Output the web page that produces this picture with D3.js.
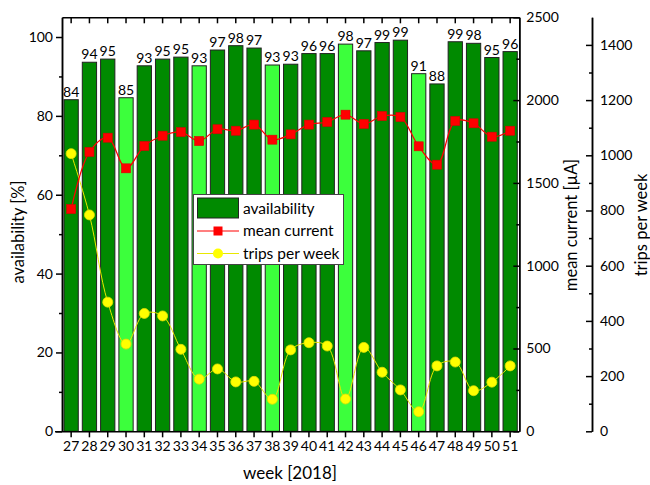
<!DOCTYPE html>
<html>
<head>
<meta charset="utf-8">
<script src="https://cdn.jsdelivr.net/npm/d3@7/dist/d3.min.js"></script>
<style>
  body { margin: 0; background: #fff; }
  svg { display: block; font-family: Lato, "Open Sans", sans-serif; }
  .tick text { font-size: 14px; fill: #000; }
</style>
</head>
<body>
<svg id="chart" width="650" height="485"></svg>
<script>
// ---- data ----
const weeks = [27,28,29,30,31,32,33,34,35,36,37,38,39,40,41,42,43,44,45,46,47,48,49,50,51];
const availability = [84.1,93.6,94.4,84.6,92.7,94.4,94.9,92.7,96.7,97.8,97.2,92.9,93.1,95.8,95.8,98.2,96.5,98.6,99.2,90.7,88.1,98.8,98.4,94.8,96.3];
const availabilityLabels = [84,94,95,85,93,95,95,93,97,98,97,93,93,96,96,98,97,99,99,91,88,99,98,95,96];
const highlightWeeks = [30,34,38,42,46];
const meanCurrent = [1342,1687,1773,1588,1723,1785,1807,1753,1824,1815,1852,1761,1793,1852,1868,1912,1856,1904,1898,1721,1610,1874,1860,1779,1815];
const tripsPerWeek = [1006,784,468,316,427,418,297,189,226,179,181,116,295,321,309,117,304,214,150,71,237,251,147,178,237];
const availTicks = [0,20,40,60,80,100];
const availMinor = [10,30,50,70,90];
const currentTicks = [0,500,1000,1500,2000,2500];
const currentMinor = [250,750,1250,1750,2250];
const tripsTicks = [0,200,400,600,800,1000,1200,1400];
const tripsMinor = [100,300,500,700,900,1100,1300];
const legendItems = ["availability","mean current","trips per week"];

// ---- layout ----
const L = 62, R = 519.3, T = 17.3, B = 431.3, tripsX = 592;
const svg = d3.select("#chart");

const x = d3.scaleBand().domain(weeks).range([L, R]).paddingInner(0.22).paddingOuter(0.11);
const yA = d3.scaleLinear().domain([0,105]).range([B, T]);
const yC = d3.scaleLinear().domain([0,2500]).range([B, T]);
const yT = d3.scaleLinear().domain([0,1500]).range([B, T]);
const fmt = d3.format("d");

const darkGreen = "#008a00", lightGreen = "#3cff3c";

// bars
svg.append("g").selectAll("rect").data(weeks).join("rect")
  .attr("x", d => x(d))
  .attr("width", x.bandwidth())
  .attr("y", (d,i) => yA(availability[i]))
  .attr("height", (d,i) => B - yA(availability[i]))
  .attr("fill", d => highlightWeeks.includes(d) ? lightGreen : darkGreen)
  .attr("stroke", "#222").attr("stroke-width", 1);

// value labels
svg.append("g").selectAll("text").data(weeks).join("text")
  .attr("x", d => x(d) + x.bandwidth()/2)
  .attr("y", (d,i) => yA(availability[i]) - 3)
  .attr("text-anchor", "middle")
  .attr("font-size", 14)
  .text((d,i) => availabilityLabels[i]);

// trips line
const cx = d => x(d) + x.bandwidth()/2;
svg.append("path")
  .attr("d", d3.line().x((d,i) => cx(weeks[i])).y(d => yT(d)).curve(d3.curveCatmullRom.alpha(0.5))(tripsPerWeek))
  .attr("fill", "none").attr("stroke", "#e8e800").attr("stroke-width", 1);
svg.append("g").selectAll("circle").data(tripsPerWeek).join("circle")
  .attr("cx", (d,i) => cx(weeks[i])).attr("cy", d => yT(d)).attr("r", 5)
  .attr("fill", "#ffff00").attr("stroke", "#e0e000").attr("stroke-width", 0.8);

// current line
svg.append("path")
  .attr("d", d3.line().x((d,i) => cx(weeks[i])).y(d => yC(d)).curve(d3.curveCatmullRom.alpha(0.5))(meanCurrent))
  .attr("fill", "none").attr("stroke", "#ff0000").attr("stroke-width", 1.2);
svg.append("g").selectAll("rect").data(meanCurrent).join("rect")
  .attr("x", (d,i) => cx(weeks[i]) - 4.5).attr("y", d => yC(d) - 4.5)
  .attr("width", 9).attr("height", 9)
  .attr("fill", "#ff0000").attr("stroke", "#dd0000").attr("stroke-width", 0.6);

// ---- axes ----
function styleAxis(g) {
  g.selectAll(".domain").attr("stroke", "#000").attr("stroke-width", 1.5);
  g.selectAll(".tick line").attr("stroke", "#000").attr("stroke-width", 1.5);
  g.selectAll(".tick text").attr("font-family", "Lato, 'Open Sans', sans-serif");
}
// left
svg.append("g").attr("transform", `translate(${L},0)`)
  .call(d3.axisLeft(yA).tickValues(availTicks).tickFormat(fmt).tickSize(6).tickSizeOuter(0).tickPadding(3))
  .call(styleAxis);
svg.append("g").attr("transform", `translate(${L},0)`)
  .call(d3.axisLeft(yA).tickValues(availMinor).tickSize(3).tickFormat("").tickSizeOuter(0))
  .call(styleAxis);
// bottom
svg.append("g").attr("transform", `translate(0,${B})`)
  .call(d3.axisBottom(x).tickSize(6).tickSizeOuter(0).tickPadding(4))
  .call(styleAxis)
  .call(g => g.select(".domain").attr("d", `M${L-7},0.5H${R}`));
// top
svg.append("g").attr("transform", `translate(0,${T})`)
  .call(d3.axisTop(x).tickSize(-6).tickSizeOuter(0).tickFormat(""))
  .call(styleAxis);
// right (mean current) - ticks inward
svg.append("g").attr("transform", `translate(${R},0)`)
  .call(d3.axisRight(yC).tickValues(currentTicks).tickFormat(fmt).tickSize(-6).tickSizeOuter(0).tickPadding(7))
  .call(styleAxis);
svg.append("g").attr("transform", `translate(${R},0)`)
  .call(d3.axisRight(yC).tickValues(currentMinor).tickSize(-3).tickSizeOuter(0).tickFormat(""))
  .call(styleAxis);
// trips axis
svg.append("g").attr("transform", `translate(${tripsX},0)`)
  .call(d3.axisRight(yT).tickValues(tripsTicks).tickFormat(fmt).tickSize(-6).tickSizeOuter(0).tickPadding(8))
  .call(styleAxis);
svg.append("g").attr("transform", `translate(${tripsX},0)`)
  .call(d3.axisRight(yT).tickValues(tripsMinor).tickSize(-3).tickSizeOuter(0).tickFormat(""))
  .call(styleAxis);

// axis titles
svg.append("text").attr("transform", `translate(24,232) rotate(-90)`)
  .attr("text-anchor", "middle").attr("font-size", 16.5).text("availability [%]");
svg.append("text").attr("transform", `translate(577,225) rotate(-90)`)
  .attr("text-anchor", "middle").attr("font-size", 16.5).text("mean current [µA]");
svg.append("text").attr("transform", `translate(647,225) rotate(-90)`)
  .attr("text-anchor", "middle").attr("font-size", 16.5).text("trips per week");
svg.append("text").attr("x", 290).attr("y", 479)
  .attr("text-anchor", "middle").attr("font-size", 17).text("week [2018]");

// legend
const lg = svg.append("g");
lg.append("rect").attr("x", 193.5).attr("y", 194.5).attr("width", 150).attr("height", 70)
  .attr("fill", "#fff").attr("stroke", "#444").attr("stroke-width", 1);
lg.append("rect").attr("x", 197.5).attr("y", 198).attr("width", 41).attr("height", 20)
  .attr("fill", darkGreen).attr("stroke", "#222").attr("stroke-width", 1);
lg.append("line").attr("x1", 197).attr("x2", 239).attr("y1", 231).attr("y2", 231)
  .attr("stroke", "#ff0000").attr("stroke-width", 1.2);
lg.append("rect").attr("x", 213.5).attr("y", 226.5).attr("width", 9).attr("height", 9).attr("fill", "#ff0000");
lg.append("line").attr("x1", 197).attr("x2", 239).attr("y1", 253.5).attr("y2", 253.5)
  .attr("stroke", "#e8e800").attr("stroke-width", 1);
lg.append("circle").attr("cx", 218).attr("cy", 253.5).attr("r", 5).attr("fill", "#ffff00");
lg.selectAll("text.lt").data(legendItems).join("text").attr("class", "lt")
  .attr("x", 243).attr("y", (d,i) => 213.5 + i*22.5)
  .attr("font-size", 15.5).text(d => d);
</script>
</body>
</html>
